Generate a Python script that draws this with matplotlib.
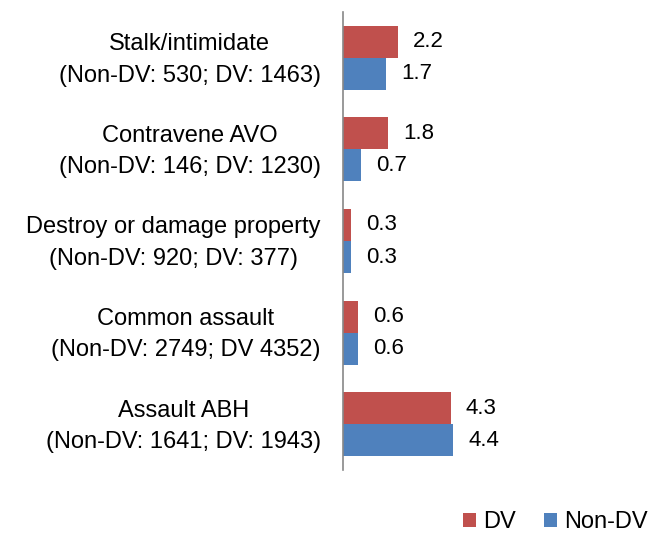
import matplotlib

matplotlib.use("Agg")
import matplotlib.pyplot as plt
import matplotlib.transforms as mtransforms
import numpy as np
from matplotlib import font_manager

# data (top to bottom as drawn)
categories = [
    "Stalk/intimidate\n(Non-DV: 530; DV: 1463)",
    "Contravene AVO\n(Non-DV: 146; DV: 1230)",
    "Destroy or damage property\n(Non-DV: 920; DV: 377)",
    "Common assault\n(Non-DV: 2749; DV 4352)",
    "Assault ABH\n(Non-DV: 1641; DV: 1943)",
]
dv = [2.2, 1.8, 0.3, 0.6, 4.3]
non_dv = [1.7, 0.7, 0.3, 0.6, 4.4]

names = {f.name for f in font_manager.fontManager.ttflist}
family = "Liberation Sans Narrow" if "Liberation Sans Narrow" in names else "Liberation Sans"
plt.rcParams["font.family"] = [family, "DejaVu Sans"]

RED = "#C0504D"
BLUE = "#4F81BD"

fig = plt.figure(figsize=(6.48, 5.33), dpi=100)
ax = fig.add_axes([343 / 648, 1 - 470 / 533, 300 / 648, 458 / 533])

y = np.arange(len(categories))
h = 0.35
b1 = ax.barh(y - h / 2, dv, height=h, color=RED, label="DV")
b2 = ax.barh(y + h / 2, non_dv, height=h, color=BLUE, label="Non-DV")

for bars, vals in ((b1, dv), (b2, non_dv)):
    for bar, v in zip(bars, vals):
        ax.annotate(f"{v:.1f}", (bar.get_width(), bar.get_y() + bar.get_height() / 2),
                    xytext=(11, 0), textcoords="offset points",
                    ha="left", va="center", fontsize=16)

ax.set_ylim(len(categories) - 0.5, -0.5)
ax.set_xlim(0, 12)
ax.set_yticks(y)
ax.set_yticklabels(categories, fontsize=17, multialignment="center", linespacing=1.55)
ax.tick_params(axis="y", length=0, pad=16)
# nudge the two-line labels up a little
shift = mtransforms.ScaledTranslation(0, 0.05, fig.dpi_scale_trans)
for lbl in ax.get_yticklabels():
    lbl.set_transform(lbl.get_transform() + shift)
ax.set_xticks([])
for s in ("top", "right", "bottom"):
    ax.spines[s].set_visible(False)
ax.spines["left"].set_color("#888888")
ax.spines["left"].set_linewidth(1.2)

fig.legend(handles=[b1, b2], loc="center right", bbox_to_anchor=(1.0, 1 - 522 / 533),
           ncol=2, frameon=False, fontsize=17, handlelength=0.55, handleheight=0.55,
           handletextpad=0.3, columnspacing=1.2, borderaxespad=0.0, borderpad=0.0)

fig.savefig("out.png", dpi=100)
